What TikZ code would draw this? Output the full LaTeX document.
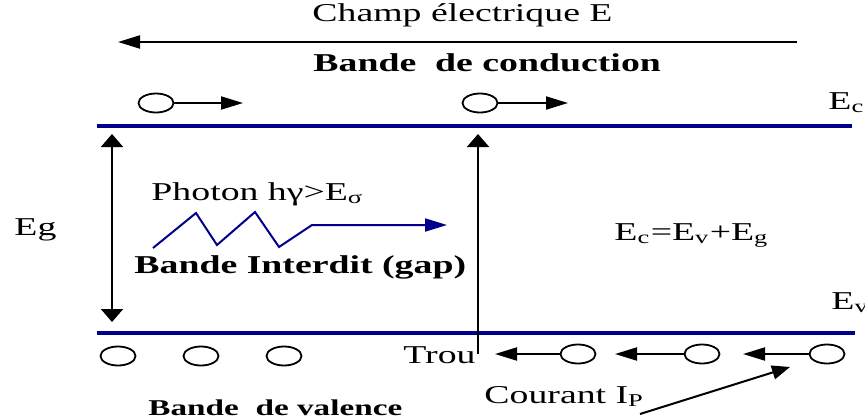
\documentclass[tikz,border=0pt]{standalone}
\usepackage{fontspec}
\setmainfont{Liberation Serif}
\usetikzlibrary{arrows.meta, shapes.geometric, calc}
\definecolor{bandblue}{RGB}{0,0,140}

\begin{document}
\begin{tikzpicture}[x=0.5pt, y=-0.5pt, line width=1pt,
        txt/.style={anchor=base west, inner sep=0pt, xscale=1.47, transform shape, font=\fontsize{12.85}{15}\selectfont},
        bold/.style={txt, font=\fontsize{12.85}{15}\selectfont\bfseries},
        particle/.style={ellipse, draw, line width=0.9pt, minimum width=17.5pt, minimum height=9.5pt, inner sep=0pt},
        hhead/.style={-{Triangle[length=11pt, width=6.5pt]}},
        vhead/.style={-{Triangle[length=6.5pt, width=11pt]}},
        vboth/.style={{Triangle[length=6.5pt, width=11pt]}-{Triangle[length=6.5pt, width=11pt]}},
        band/.style={bandblue, line width=2pt}]
            \useasboundingbox (0,0) rectangle (865,418);

            % champ electrique
            \node[txt] (field) at (311,21) {Champ électrique E};
            \coordinate (fieldR) at (797,42);
            \coordinate (fieldL) at (118,42);

            % bande de conduction
            \node[bold] (cband) at (312,71) {Bande\ \ de conduction};
            \node[particle] (e1) at (156,103) {};
            \node[particle] (e2) at (480,103) {};
            \coordinate (e1tip) at (243,103);
            \coordinate (e2tip) at (568,103);
            \coordinate (cL) at (97,126);
            \coordinate (cR) at (852,126);
            \node[txt] (Ec) at (827,109) {E\textsubscript{c}};

            % gap
            \coordinate (gapT) at (112,134);
            \coordinate (gapB) at (112,322);
            \node[txt] (Eg) at (13,235) {Eg};
            \node[txt] (photon) at (150,200) {Photon hγ>E\textsubscript{σ}};
            \node[bold] (gap) at (133,273) {Bande Interdit (gap)};
            \node[txt] (rel) at (613,240) {E\textsubscript{c}=E\textsubscript{v}+E\textsubscript{g}};
            \coordinate (jumpT) at (478,134);
            \coordinate (jumpB) at (478,354);

            % bande de valence
            \coordinate (vL) at (97,333);
            \coordinate (vR) at (855,333);
            \node[txt] (Ev) at (830,309) {E\textsubscript{v}};
            \node[particle] (h1) at (118,356) {};
            \node[particle] (h2) at (201,356) {};
            \node[particle] (h3) at (284,356) {};
            \node[txt] (trou) at (402,363) {Trou};
            \node[particle] (p1) at (578,354) {};
            \node[particle] (p2) at (702,354) {};
            \node[particle] (p3) at (827,354) {};
            \coordinate (t1) at (495,354);
            \coordinate (t2) at (615,354);
            \coordinate (t3) at (743,354);
            \node[txt] (courant) at (483,403) {Courant I\textsubscript{P}};
            \coordinate (curS) at (640,414);
            \coordinate (curE) at (790,367);
            \node[bold, font=\fontsize{11.3}{13}\selectfont\bfseries] (vband) at (147,415) {Bande\ \ de valence};

            \draw[band] (cL) -- (cR);
            \draw[band] (vL) -- (vR);

            \path[hhead]
            (fieldR) edge (fieldL)
            (e1) edge (e1tip)
            (e2) edge (e2tip)
            (p1) edge (t1)
            (p2) edge (t2)
            (p3) edge (t3)
            ;
            \path[vboth] (gapT) edge (gapB);
            \path[vhead] (jumpB) edge (jumpT);
            \path[-{Triangle[length=9pt, width=7pt]}] (curS) edge (curE);

            \draw[bandblue, hhead] (153,248) -- (196,213) -- (217,245) -- (255,212) -- (279,247) -- (312,225) -- (447,225);
        \end{tikzpicture}
\end{document}
